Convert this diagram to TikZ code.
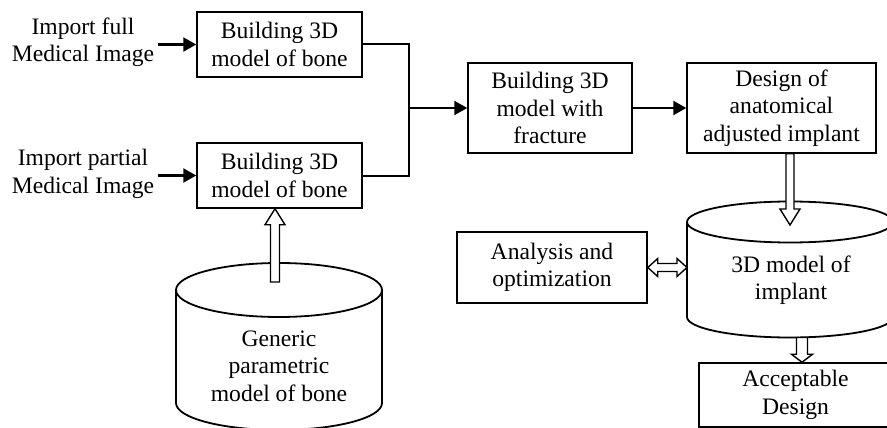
\documentclass[tikz,border=0pt]{standalone}
\usepackage{fontspec}
\setmainfont{Liberation Serif}
\usepackage{xcolor}
\definecolor{ink}{HTML}{000000}
\usepackage{tikz}
\usetikzlibrary{arrows.meta,calc}

\begin{document}
\begin{tikzpicture}[x=1pt, y=-1pt,
    every node/.style={font=\fontsize{23.6}{27.5}\selectfont, text=ink, align=center},
    stagebox/.style={rectangle, draw=ink, line width=1.5pt, inner sep=2pt},
    link/.style={draw=ink, line width=2pt},
    flow/.style={draw=ink, line width=2.4pt, -{Triangle[length=13pt,width=14pt]}},
    drum/.style={draw=ink, line width=1.8pt},
    hollow/.style n args={3}{draw=ink, fill=white, line width=1.4pt,
      to path={($(\tikztotarget)!#3!(\tikztostart)$) coordinate (hb)
        ($(\tikztostart)!#1!90:(\tikztotarget)$) -- ($(hb)!#1!90:(\tikztotarget)$)
        -- ($(hb)!#2!90:(\tikztotarget)$) -- (\tikztotarget)
        -- ($(hb)!#2!-90:(\tikztotarget)$) -- ($(hb)!#1!-90:(\tikztotarget)$)
        -- ($(\tikztostart)!#1!-90:(\tikztotarget)$) -- cycle}},
    hollowboth/.style n args={3}{draw=ink, fill=white, line width=1.4pt,
      to path={($(\tikztotarget)!#3!(\tikztostart)$) coordinate (hb)
        ($(\tikztostart)!#3!(\tikztotarget)$) coordinate (ha)
        ($(ha)!#1!90:(\tikztotarget)$) -- ($(hb)!#1!90:(\tikztotarget)$)
        -- ($(hb)!#2!90:(\tikztotarget)$) -- (\tikztotarget)
        -- ($(hb)!#2!-90:(\tikztotarget)$) -- ($(hb)!#1!-90:(\tikztotarget)$)
        -- ($(ha)!#1!-90:(\tikztotarget)$) -- ($(ha)!#2!-90:(\tikztotarget)$)
        -- (\tikztostart) -- ($(ha)!#2!90:(\tikztotarget)$) -- cycle}}]
        \useasboundingbox (0,0) rectangle (887,428);
        \clip (0,0) rectangle (887,428);
        % image inputs
        \node (fullimg) at (83,42) {Import full\\Medical Image};
        \node (partimg) at (83,174) {Import partial\\Medical Image};
        % bone models
        \node[stagebox, minimum width=165pt, minimum height=65pt] (fullbone) at (279.5,44.5) {Building 3D\\model of bone};
        \node[stagebox, minimum width=165pt, minimum height=65pt] (partbone) at (279.5,175.5) {Building 3D\\model of bone};
        \node[stagebox, minimum width=164pt, minimum height=90pt] (fracture) at (550,108) {Building 3D\\model with\\fracture};
        \node[stagebox, minimum width=189pt, minimum height=90pt] (design) at (781.5,108) {Design of\\anatomical\\adjusted implant};
        \node[stagebox, minimum width=190pt, minimum height=71pt] (analysis) at (552,267.5) {Analysis and\\optimization};
        \node[stagebox, minimum width=193pt, minimum height=64pt] (accept) at (795.5,395) {Acceptable\\Design};
        % databases
        \draw[drum] (176,290) -- (176,403) arc[start angle=180, end angle=360, x radius=103pt, y radius=27pt] -- (382,290);
        \draw[drum] (279,290) ellipse[x radius=103pt, y radius=27pt];
        \node (generic) at (279,366) {Generic\\parametric\\model of bone};
        \draw[drum] (687,222) -- (687,317) arc[start angle=180, end angle=360, x radius=103pt, y radius=20.5pt] -- (893,222);
        \draw[drum] (790,222) ellipse[x radius=103pt, y radius=20.5pt];
        \node (implant) at (791,280) {3D model of\\implant};
        \coordinate (generictop) at (275,282);
        \coordinate (implanttop) at (790,225);
        \coordinate (implantside) at (687,267.5);
        \coordinate (implantfoot) at (802,337.5);
        \coordinate (partin) at ([xshift=-4.5pt]partbone.south);
        \coordinate (designout) at ([xshift=8.5pt]design.south);
        \coordinate (acceptin) at ([xshift=6.5pt]accept.north);
        \coordinate (joint) at (409,108);
        % flow
        \draw[flow] (fullimg.east |- fullbone.west) -- (fullbone.west);
        \draw[flow] (partimg.east |- partbone.west) -- (partbone.west);
        \draw[link] (fullbone.east) -| (joint) |- (partbone.east);
        \draw[flow] (joint) -- (fracture.west);
        \draw[flow] (fracture.east) -- (design.west);
        \draw[hollow={4.5pt}{10pt}{16pt}] (generictop) to (partin);
        \draw[hollow={4pt}{10pt}{16pt}] (designout) to (implanttop);
        \draw[hollowboth={4pt}{9pt}{10pt}] (analysis.east) to (implantside);
        \draw[hollow={5.5pt}{10.5pt}{8pt}] (implantfoot) to (acceptin);
      \end{tikzpicture}
\end{document}
